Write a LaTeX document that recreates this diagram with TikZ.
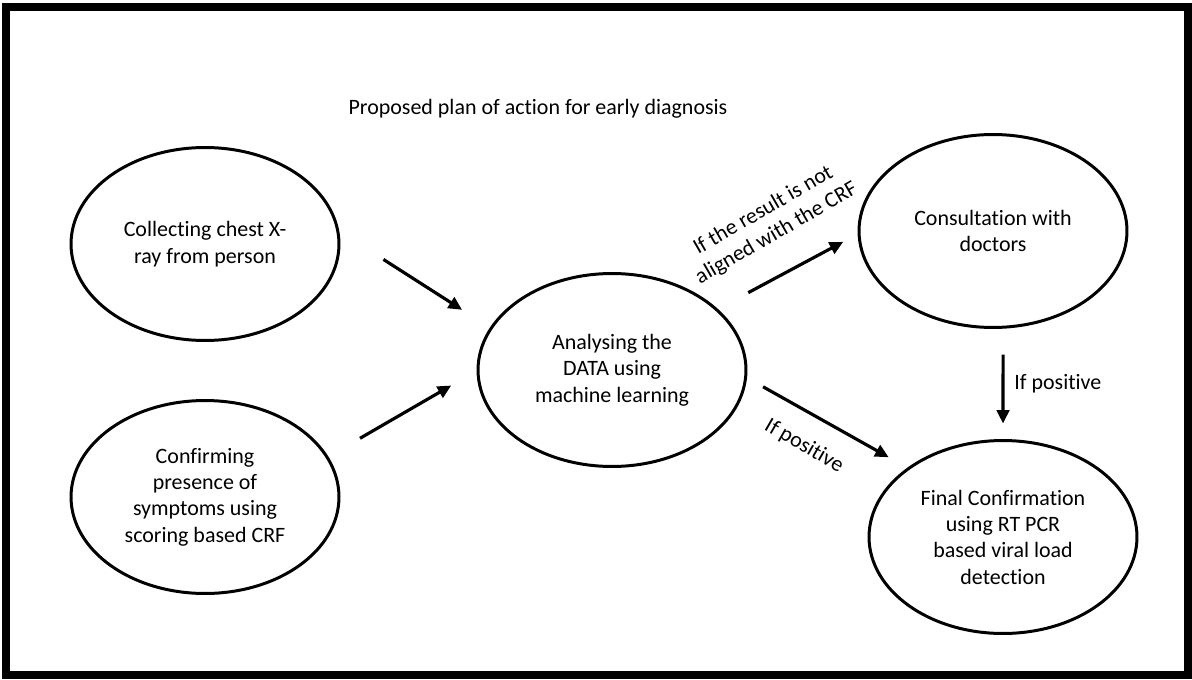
\documentclass[tikz,border=0pt]{standalone}
\usepackage{fontspec}
\setmainfont{Carlito}[Ligatures=NoCommon]
\usetikzlibrary{arrows.meta,positioning,shapes.geometric}
\begin{document}
\begin{tikzpicture}[x=0.02cm,y=-0.02cm,
  every node/.style={font=\fontsize{12.5}{15}\selectfont,align=center},
  stage/.style={draw,ellipse,line width=1.7pt,minimum width=5.36cm,minimum height=3.86cm,inner sep=0pt,outer sep=0pt},
  flow/.style={line width=1.8pt,-{Triangle[length=2.7mm,width=2.5mm]}}]
\useasboundingbox (0,0) rectangle (1192,679);
\fill[white] (0,0) rectangle (1192,679);
\draw[line width=0.16cm] (6,7) rectangle (1188,675);
\node (title) at (538,109) {Proposed plan of action for early diagnosis};
\node[stage] (xray) at (205,244) {Collecting chest X-\\ray from person};
\node[stage] (symptoms) at (205,497) {Confirming\\presence of\\symptoms using\\scoring based CRF};
\node[stage] (analyse) at (612,370) {Analysing the\\DATA using\\machine learning};
\node[stage] (doctors) at (993,231) {Consultation with\\doctors};
\node[stage] (pcr) at (1003,537) {Final Confirmation\\using RT PCR\\based viral load\\detection};
\draw[flow,shorten <=1.09cm,shorten >=0.69cm] (xray.6.3) -- (analyse.161.1);
\draw[flow,shorten <=0.76cm,shorten >=0.62cm] (symptoms.18.35) -- (analyse.180.8);
\draw[flow,shorten <=0.72cm,shorten >=0.36cm] (analyse.30.5) -- (doctors.181.1);
\draw[flow,shorten <=0.40cm,shorten >=0.46cm] (analyse.-3.5) -- (pcr.144.8);
\draw[flow,shorten <=0.55cm,shorten >=0.34cm] (doctors.-84.1) -- (pcr.90);
\node[rotate=30] (notaligned) at (770,222) {If the result is not\\aligned with the CRF};
\node[rotate=-30] (poslow) at (804,446) {If positive};
\node[anchor=west,inner sep=0pt] (posright) at (1014,384) {If positive};
\end{tikzpicture}
\end{document}
